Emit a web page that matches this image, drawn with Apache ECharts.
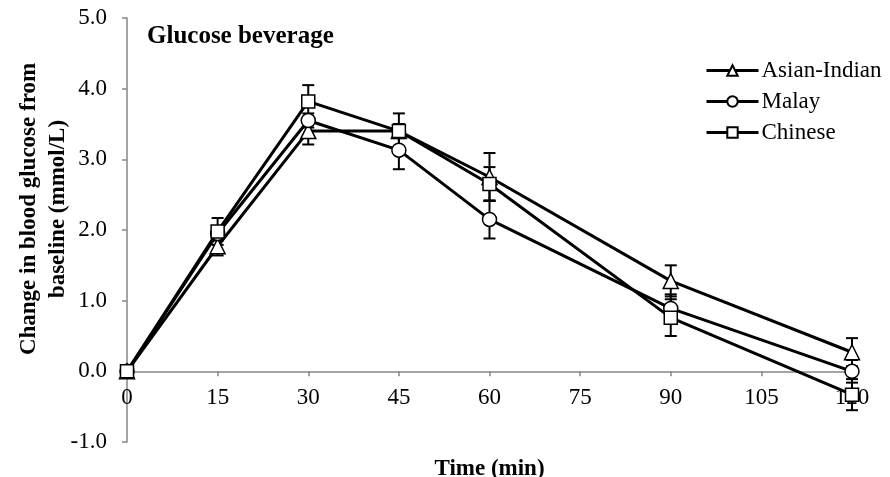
<!DOCTYPE html>
<html>
<head>
<meta charset="utf-8">
<script src="https://cdn.jsdelivr.net/npm/echarts@6/dist/echarts.min.js"></script>
<style>html,body{margin:0;padding:0;background:#fff}#c{width:890px;height:477px}</style>
</head>
<body>
<div id="c"></div>
<script>
var times = [0, 15, 30, 45, 60, 90, 120];
var seriesNames = ['Asian-Indian', 'Malay', 'Chinese'];
var asianIndian = [0, 1.77, 3.40, 3.40, 2.75, 1.28, 0.27];
var asianIndianSE = [0, 0.13, 0.19, 0.10, 0.34, 0.22, 0.20];
var malay = [0, 1.95, 3.55, 3.13, 2.15, 0.89, 0.00];
var malaySE = [0, 0.10, 0.10, 0.27, 0.27, 0.20, 0.16];
var chinese = [0, 1.98, 3.82, 3.40, 2.65, 0.76, -0.33];
var chineseSE = [0, 0.19, 0.23, 0.25, 0.24, 0.26, 0.22];
var xTicks = [0, 15, 30, 45, 60, 75, 90, 105, 120];
var yTicks = [-1, 0, 1, 2, 3, 4, 5];

var FONT = '"Liberation Serif", "Times New Roman", serif';
var symbols = ['triangle', 'circle', 'rect'];
var sizes = [15, 14, 13];
var means = [asianIndian, malay, chinese];
var ses = [asianIndianSE, malaySE, chineseSE];

function pts(vals) { return times.map(function (t, i) { return [t, vals[i]]; }); }
function errData(vals, se) { return times.map(function (t, i) { return [t, vals[i] - se[i], vals[i] + se[i]]; }); }

function errRender(params, api) {
  var x = api.value(0);
  var lo = api.coord([x, api.value(1)]);
  var hi = api.coord([x, api.value(2)]);
  var hw = 6;
  var st = { stroke: '#000', lineWidth: 2 };
  return {
    type: 'group',
    children: [
      { type: 'line', shape: { x1: lo[0], y1: lo[1], x2: hi[0], y2: hi[1] }, style: st },
      { type: 'line', shape: { x1: lo[0] - hw, y1: lo[1], x2: lo[0] + hw, y2: lo[1] }, style: st },
      { type: 'line', shape: { x1: hi[0] - hw, y1: hi[1], x2: hi[0] + hw, y2: hi[1] }, style: st }
    ]
  };
}

var series = [];
for (var k = 0; k < 3; k++) {
  series.push({
    name: seriesNames[k] + ' err',
    type: 'custom',
    renderItem: errRender,
    data: errData(means[k], ses[k]),
    encode: { x: 0, y: [1, 2] },
    z: 1,
    silent: true
  });
}
for (var k2 = 0; k2 < 3; k2++) {
  series.push({
    name: seriesNames[k2],
    type: 'line',
    data: pts(means[k2]),
    symbol: symbols[k2],
    symbolSize: sizes[k2],
    showAllSymbol: true,
    lineStyle: { color: '#000', width: 3 },
    itemStyle: { color: '#fff', borderColor: '#000', borderWidth: 1.5 },
    z: 3,
    animation: false
  });
}

var chart = echarts.init(document.getElementById('c'));
chart.setOption({
  animation: false,
  backgroundColor: '#fff',
  title: {
    text: 'Glucose beverage',
    left: 142, top: 19,
    textStyle: { fontFamily: FONT, fontSize: 25, fontWeight: 'bold', color: '#000' }
  },
  legend: {
    data: seriesNames,
    orient: 'vertical',
    left: 700, top: 54,
    itemWidth: 52, itemHeight: 13,
    itemGap: 8,
    lineStyle: { width: 3, color: '#000' },
    textStyle: { fontFamily: FONT, fontSize: 23, color: '#000', padding: [0, 0, 0, -2] }
  },
  grid: { left: 127, right: 38, top: 18, bottom: 35, outerBoundsMode: 'none', containLabel: false },
  xAxis: {
    type: 'value', min: 0, max: 120, interval: 15,
    name: 'Time (min)', nameLocation: 'middle', nameGap: 16,
    nameTextStyle: { fontFamily: FONT, fontSize: 23, fontWeight: 'bold', color: '#000' },
    axisLine: { onZero: true, lineStyle: { color: '#868686', width: 1.5 } },
    axisTick: { show: true, inside: false, length: 5, lineStyle: { color: '#868686', width: 1.5 } },
    axisLabel: { fontFamily: FONT, fontSize: 23, color: '#000', margin: -56,
      formatter: function (v) { return xTicks.indexOf(v) >= 0 ? String(v) : ''; } },
    splitLine: { show: false }
  },
  yAxis: {
    type: 'value', min: -1, max: 5, interval: 1,
    axisLine: { show: true, lineStyle: { color: '#868686', width: 1.5 } },
    axisTick: { show: true, inside: false, length: 5, lineStyle: { color: '#868686', width: 1.5 } },
    axisLabel: { fontFamily: FONT, fontSize: 23, color: '#000', margin: 20,
      formatter: function (v) { return yTicks.indexOf(v) >= 0 ? v.toFixed(1) : ''; } },
    splitLine: { show: false }
  },
  graphic: [{
    type: 'text',
    x: 44, y: 209,
    rotation: Math.PI / 2,
    style: {
      text: 'Change in blood glucose from\nbaseline (mmol/L)',
      font: 'bold 23px ' + FONT,
      fill: '#000',
      align: 'center',
      verticalAlign: 'middle',
      lineHeight: 29
    }
  }],
  series: series
});
</script>
</body>
</html>
